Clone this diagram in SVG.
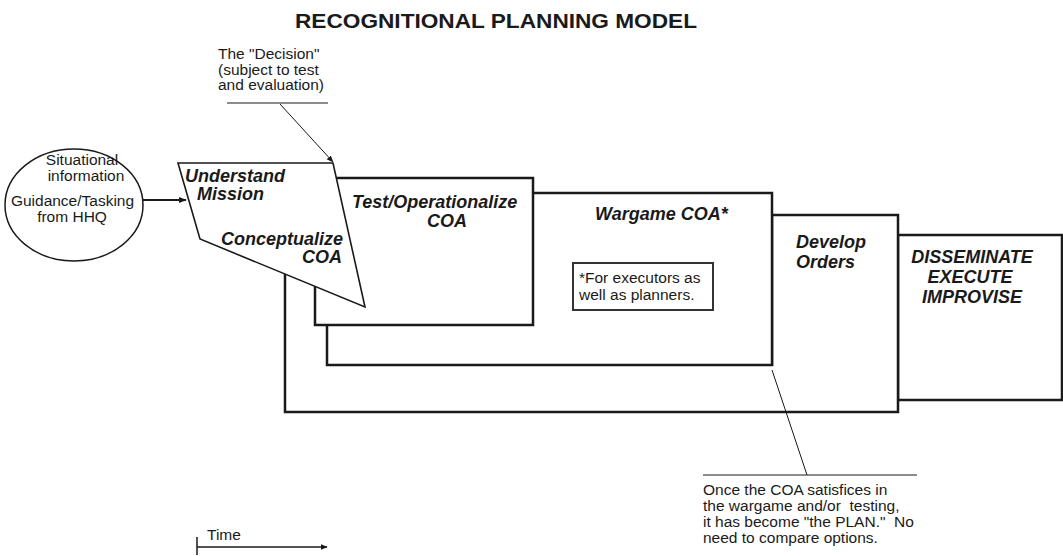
<svg xmlns="http://www.w3.org/2000/svg" width="1063" height="556" viewBox="0 0 1063 556">
<defs>
<style>
.t{font-family:"Liberation Sans",Arial,sans-serif;fill:#1a1a1a}
.n{font-size:15.5px}
.bi{font-size:18px;font-weight:bold;font-style:italic}
.box{fill:#fff;stroke:#1a1a1a;stroke-width:2.5}
.thin{fill:none;stroke:#1a1a1a;stroke-width:1}
</style>
<marker id="ah" viewBox="0 0 10 10" refX="9" refY="5" markerWidth="8" markerHeight="8" orient="auto" markerUnits="userSpaceOnUse">
<path d="M0,1 L10,5 L0,9 Z" fill="#1a1a1a"/>
</marker>
<marker id="ahs" viewBox="0 0 10 10" refX="9" refY="5" markerWidth="7" markerHeight="7" orient="auto" markerUnits="userSpaceOnUse">
<path d="M0,1 L10,5 L0,9 Z" fill="#1a1a1a"/>
</marker>
</defs>
<rect width="1063" height="556" fill="#fff"/>
<text class="t" x="295" y="28" font-size="21" font-weight="bold" textLength="402" lengthAdjust="spacingAndGlyphs">RECOGNITIONAL PLANNING MODEL</text>

<g id="disseminate">
<rect class="box" x="898" y="235" width="164" height="165"/>
<text class="t bi" x="972" y="263" text-anchor="middle">DISSEMINATE</text>
<text class="t bi" x="970" y="283" text-anchor="middle">EXECUTE</text>
<text class="t bi" x="972" y="303" text-anchor="middle">IMPROVISE</text>
</g>
<g id="develop-orders">
<path class="box" d="M285,262 V412 H898 V215 H772 V366" stroke-linejoin="miter"/>
<text class="t bi" x="796" y="248">Develop</text>
<text class="t bi" x="796" y="268">Orders</text>
</g>
<g id="wargame">
<rect class="box" x="327" y="193" width="445" height="172"/>
<text class="t bi" x="595" y="220">Wargame COA*</text>
</g>
<g id="footnote">
<rect x="573" y="263" width="140" height="47" fill="#fff" stroke="#333" stroke-width="2"/>
<text class="t n" x="579" y="283">*For executors as</text>
<text class="t n" x="579" y="300">well as planners.</text>
</g>
<g id="test">
<rect class="box" x="315" y="178" width="218" height="147"/>
<text class="t bi" x="352" y="208">Test/Operationalize</text>
<text class="t bi" x="447" y="227" text-anchor="middle">COA</text>
</g>
<g id="understand">
<polygon points="178,163 333,163 365,307 200,239" fill="#fff" stroke="#1a1a1a" stroke-width="1.6"/>
<text class="t bi" x="185" y="182">Understand</text>
<text class="t bi" x="197" y="200">Mission</text>
<text class="t bi" x="343" y="245" text-anchor="end">Conceptualize</text>
<text class="t bi" x="342" y="263" text-anchor="end">COA</text>
</g>
<g id="situational">
<ellipse cx="74" cy="205" rx="69" ry="56" fill="#fff" stroke="#1a1a1a" stroke-width="1.5"/>
<text class="t n" x="82" y="165" text-anchor="middle">Situational</text>
<text class="t n" x="86" y="181" text-anchor="middle">information</text>
<text class="t n" x="72.5" y="206" text-anchor="middle">Guidance/Tasking</text>
<text class="t n" x="72" y="222" text-anchor="middle">from HHQ</text>
</g>
<g id="decision-note">
<text class="t n" x="218" y="59">The "Decision"</text>
<text class="t n" x="218" y="74.5">(subject to test</text>
<text class="t n" x="218" y="90">and evaluation)</text>
</g>
<g id="plan-note">
<text class="t n" x="703" y="495">Once the COA satisfices in</text>
<text class="t n" x="703" y="511" style="white-space:pre">the wargame and/or  testing,</text>
<text class="t n" x="703" y="527" style="white-space:pre">it has become "the PLAN."  No</text>
<text class="t n" x="703" y="543">need to compare options.</text>
</g>
<g id="time">
<text class="t n" x="207" y="540">Time</text>
</g>
<g id="connectors">
<line x1="143" y1="200" x2="186" y2="200" stroke="#1a1a1a" stroke-width="2" marker-end="url(#ah)"/>
<line class="thin" x1="227" y1="103" x2="328" y2="103"/>
<line class="thin" x1="280" y1="104" x2="333" y2="162" marker-end="url(#ahs)"/>
<line class="thin" x1="703" y1="475" x2="917" y2="475"/>
<line class="thin" x1="807" y1="475" x2="772" y2="370"/>
<line x1="197" y1="537" x2="197" y2="555" stroke="#1a1a1a" stroke-width="1.5"/>
<line x1="197" y1="547" x2="327" y2="547" stroke="#1a1a1a" stroke-width="1.5" marker-end="url(#ahs)"/>
</g>
</svg>
